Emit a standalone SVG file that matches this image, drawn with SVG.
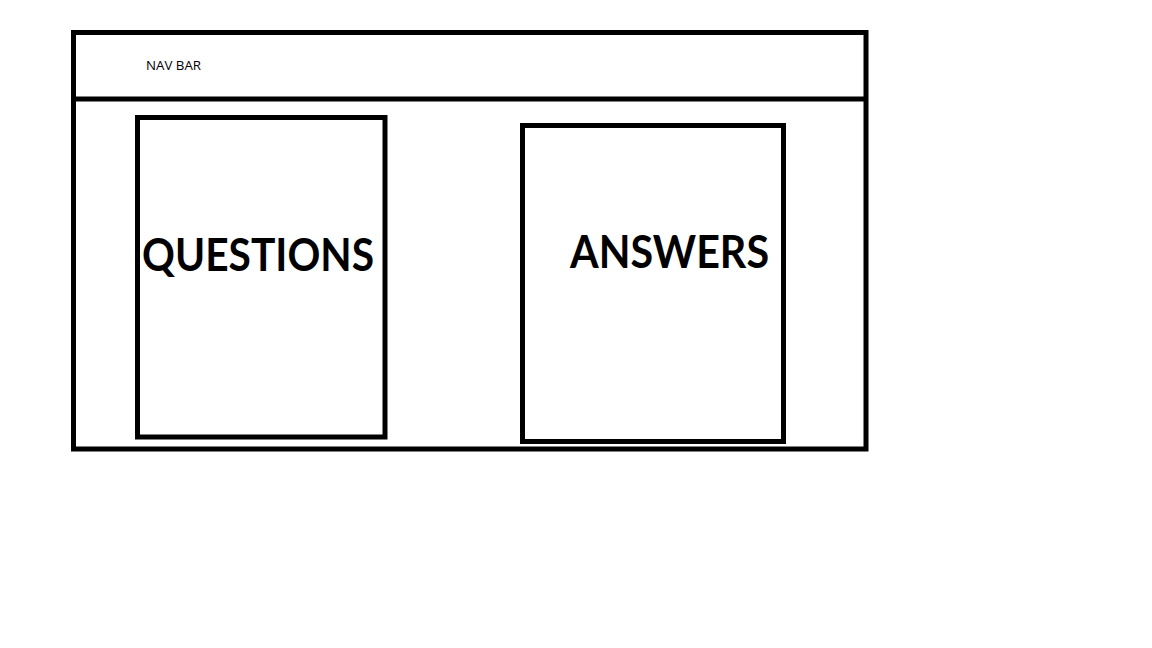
<svg xmlns="http://www.w3.org/2000/svg" width="1152" height="648" viewBox="0 0 1152 648">
<style>
.box{fill:none;stroke:#000;stroke-width:5}
.big{font-family:Lato,"Open Sans","Liberation Sans",sans-serif;font-weight:bold;font-size:46px;fill:#000}
.small{font-family:"Open Sans","Liberation Sans",sans-serif;font-size:13px;fill:#000}
</style>
<rect width="1152" height="648" fill="#fff"/>
<g id="page">
<rect class="box" x="73.5" y="32.5" width="792.5" height="416.5"/>
</g>
<g id="navbar">
<line class="box" x1="71" y1="99" x2="868" y2="99"/>
<text class="small" x="146" y="70" textLength="55" lengthAdjust="spacingAndGlyphs">NAV BAR</text>
</g>
<g id="questions">
<rect class="box" x="137.5" y="117.5" width="247.5" height="319.5"/>
<text class="big" x="142" y="271" textLength="232" lengthAdjust="spacingAndGlyphs">QUESTIONS</text>
</g>
<g id="answers">
<rect class="box" x="522.5" y="125.5" width="261" height="316"/>
<text class="big" x="570" y="268" textLength="199" lengthAdjust="spacingAndGlyphs">ANSWERS</text>
</g>
<g id="connectors"/>
</svg>
